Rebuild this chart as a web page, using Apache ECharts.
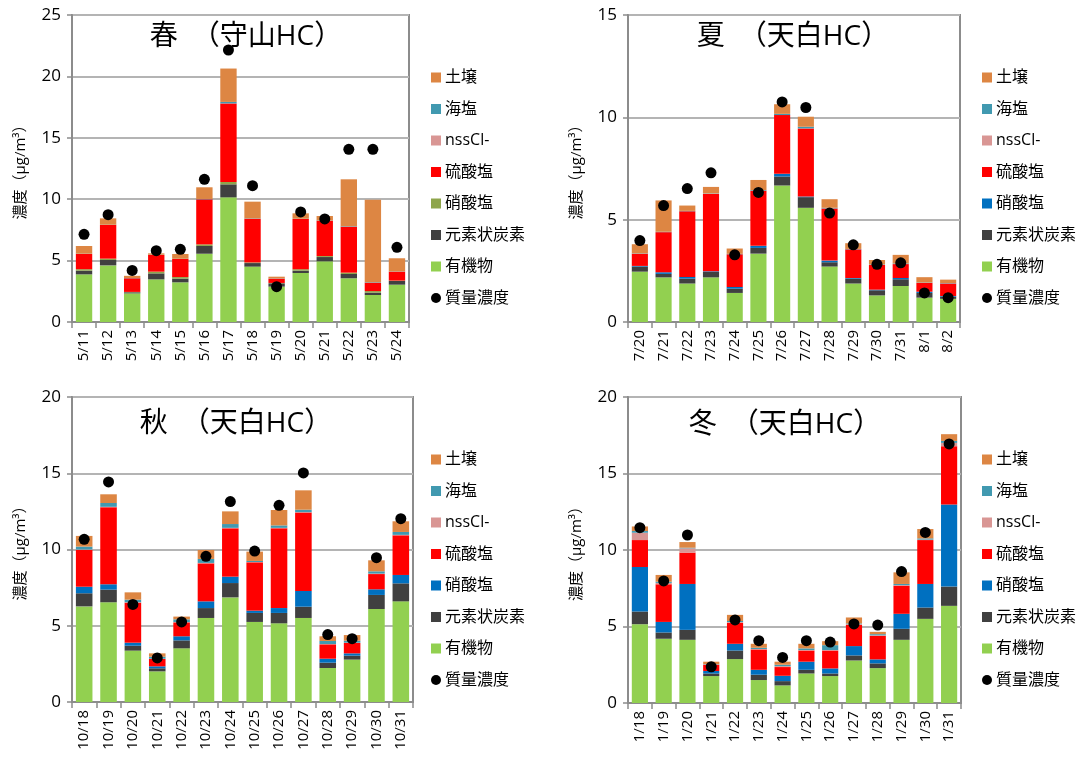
<!DOCTYPE html>
<html>
<head>
<meta charset="utf-8">
<script src="https://cdn.jsdelivr.net/npm/echarts@6/dist/echarts.min.js"></script>
<style>
  html, body { margin: 0; padding: 0; background: #fff; }
  #chart { width: 1079px; height: 758px; }
</style>
</head>
<body>
<div id="chart"></div>
<script>
// ---- 春（守山HC） ----
const springDates = ['5/11','5/12','5/13','5/14','5/15','5/16','5/17','5/18','5/19','5/20','5/21','5/22','5/23','5/24'];
const springOrganic  = [3.88, 4.61, 2.33, 3.47, 3.23, 5.56, 10.15, 4.51, 2.88, 3.99, 4.94, 3.56, 2.20, 3.04];
const springEC       = [0.30, 0.44, 0.09, 0.49, 0.30, 0.63, 1.06, 0.29, 0.27, 0.19, 0.35, 0.35, 0.19, 0.30];
const springNitrate  = [0.12, 0.11, 0.03, 0.14, 0.13, 0.13, 0.19, 0.05, 0.03, 0.12, 0.08, 0.11, 0.13, 0.03];
const springSulfate  = [1.24, 2.74, 1.11, 1.36, 1.47, 3.67, 6.40, 3.56, 0.35, 4.09, 2.88, 3.74, 0.68, 0.73];
const springNssCl    = [0, 0, 0, 0, 0, 0, 0, 0, 0, 0, 0, 0, 0, 0];
const springSeaSalt  = [0.02, 0.02, 0.02, 0.02, 0.02, 0.03, 0.12, 0.03, 0.02, 0.02, 0.02, 0.04, 0.04, 0.02];
const springSoil     = [0.63, 0.52, 0.18, 0.11, 0.39, 0.95, 2.72, 1.36, 0.14, 0.44, 0.36, 3.82, 6.71, 1.07];
const springMass     = [7.14, 8.74, 4.20, 5.81, 5.92, 11.62, 22.15, 11.10, 2.88, 8.96, 8.39, 14.06, 14.06, 6.08];

// ---- 夏（天白HC） ----
const summerDates = ['7/20','7/21','7/22','7/23','7/24','7/25','7/26','7/27','7/28','7/29','7/30','7/31','8/1','8/2'];
const summerOrganic  = [2.46, 2.18, 1.88, 2.18, 1.42, 3.34, 6.67, 5.58, 2.71, 1.88, 1.30, 1.76, 1.19, 1.13];
const summerEC       = [0.25, 0.17, 0.24, 0.27, 0.21, 0.28, 0.44, 0.52, 0.21, 0.24, 0.25, 0.33, 0.23, 0.11];
const summerNitrate  = [0.03, 0.08, 0.08, 0.03, 0.08, 0.10, 0.13, 0.03, 0.08, 0.03, 0.03, 0.06, 0.06, 0.03];
const summerSulfate  = [0.59, 1.96, 3.21, 3.78, 1.60, 2.69, 2.87, 3.33, 2.55, 1.40, 1.21, 0.68, 0.43, 0.61];
const summerNssCl    = [0, 0, 0, 0, 0, 0, 0, 0, 0, 0, 0, 0, 0, 0];
const summerSeaSalt  = [0.02, 0.02, 0.02, 0.02, 0.02, 0.03, 0.06, 0.08, 0.03, 0.02, 0.02, 0.03, 0.02, 0.02];
const summerSoil     = [0.45, 1.53, 0.26, 0.32, 0.26, 0.50, 0.47, 0.49, 0.42, 0.28, 0.22, 0.42, 0.26, 0.17];
const summerMass     = [3.98, 5.69, 6.52, 7.29, 3.28, 6.33, 10.75, 10.48, 5.32, 3.77, 2.82, 2.89, 1.42, 1.19];

// ---- 秋（天白HC） ----
const autumnDates = ['10/18','10/19','10/20','10/21','10/22','10/23','10/24','10/25','10/26','10/27','10/28','10/29','10/30','10/31'];
const autumnOrganic  = [6.27, 6.54, 3.37, 2.01, 3.52, 5.51, 6.86, 5.25, 5.16, 5.51, 2.23, 2.78, 6.10, 6.60];
const autumnEC       = [0.86, 0.83, 0.32, 0.20, 0.52, 0.65, 0.94, 0.59, 0.68, 0.74, 0.35, 0.26, 0.92, 1.18];
const autumnNitrate  = [0.43, 0.35, 0.20, 0.13, 0.27, 0.44, 0.42, 0.15, 0.32, 1.03, 0.26, 0.15, 0.37, 0.55];
const autumnSulfate  = [2.41, 5.05, 2.62, 0.48, 0.91, 2.49, 3.17, 3.17, 5.23, 5.14, 0.94, 0.68, 1.00, 2.60];
const autumnNssCl    = [0.03, 0.03, 0.03, 0.02, 0.02, 0.03, 0.03, 0.02, 0.03, 0.03, 0.02, 0.02, 0.03, 0.03];
const autumnSeaSalt  = [0.19, 0.25, 0.17, 0.13, 0.18, 0.26, 0.25, 0.07, 0.16, 0.16, 0.20, 0.13, 0.15, 0.19];
const autumnSoil     = [0.70, 0.57, 0.48, 0.22, 0.18, 0.59, 0.83, 0.61, 1.01, 1.27, 0.31, 0.37, 0.72, 0.70];
const autumnMass     = [10.67, 14.43, 6.40, 2.89, 5.25, 9.55, 13.14, 9.90, 12.90, 15.02, 4.42, 4.15, 9.46, 12.02];

// ---- 冬（天白HC） ----
const winterDates = ['1/18','1/19','1/20','1/21','1/22','1/23','1/24','1/25','1/26','1/27','1/28','1/29','1/30','1/31'];
const winterOrganic  = [5.15, 4.20, 4.13, 1.76, 2.87, 1.50, 1.15, 1.93, 1.76, 2.78, 2.28, 4.13, 5.50, 6.35];
const winterEC       = [0.83, 0.41, 0.65, 0.17, 0.56, 0.35, 0.28, 0.24, 0.17, 0.33, 0.31, 0.72, 0.74, 1.26];
const winterNitrate  = [2.91, 0.69, 3.00, 0.16, 0.44, 0.32, 0.35, 0.53, 0.33, 0.61, 0.26, 0.98, 1.54, 5.37];
const winterSulfate  = [1.76, 2.46, 2.05, 0.41, 1.37, 1.33, 0.57, 0.73, 1.17, 1.39, 1.54, 1.84, 2.87, 3.80];
const winterNssCl    = [0.48, 0.09, 0.28, 0.02, 0.05, 0.03, 0.06, 0.03, 0.03, 0.04, 0.03, 0.03, 0.03, 0.22];
const winterSeaSalt  = [0.11, 0.08, 0.04, 0.02, 0.07, 0.08, 0.09, 0.11, 0.32, 0.05, 0.08, 0.08, 0.08, 0.13];
const winterSoil     = [0.30, 0.44, 0.37, 0.16, 0.40, 0.26, 0.20, 0.30, 0.26, 0.39, 0.15, 0.76, 0.61, 0.44];
const winterMass     = [11.46, 7.98, 10.98, 2.37, 5.43, 4.07, 2.98, 4.07, 3.98, 5.17, 5.09, 8.59, 11.15, 16.93];

const FONT = '"Open Sans", "Noto Sans CJK JP", sans-serif';
const COLORS = {
  soil: '#dd8643',
  seaSalt: '#4199b0',
  nssCl: '#d99694',
  sulfate: '#ff0000',
  nitrate: '#0070c0',
  nitrateSpring: '#8ea54b',
  ec: '#404040',
  organic: '#92d050'
};

const panels = [
  { key: '春', title: '春　（守山HC）', dates: springDates, max: 25, interval: 5,
    grid: { left: 72, top: 15, width: 337, height: 307 },
    legend: { left: 426, top: 64 }, titlePos: [246, 37],
    organic: springOrganic, ec: springEC, nitrate: springNitrate, sulfate: springSulfate,
    nssCl: springNssCl, seaSalt: springSeaSalt, soil: springSoil, mass: springMass,
    nitrateColor: COLORS.nitrateSpring },
  { key: '夏', title: '夏　（天白HC）', dates: summerDates, max: 15, interval: 5,
    grid: { left: 628, top: 15, width: 332, height: 307 },
    legend: { left: 977, top: 64 }, titlePos: [793, 37],
    organic: summerOrganic, ec: summerEC, nitrate: summerNitrate, sulfate: summerSulfate,
    nssCl: summerNssCl, seaSalt: summerSeaSalt, soil: summerSoil, mass: summerMass,
    nitrateColor: COLORS.nitrate },
  { key: '秋', title: '秋　（天白HC）', dates: autumnDates, max: 20, interval: 5,
    grid: { left: 72, top: 397, width: 341, height: 305 },
    legend: { left: 426, top: 446 }, titlePos: [236, 424],
    organic: autumnOrganic, ec: autumnEC, nitrate: autumnNitrate, sulfate: autumnSulfate,
    nssCl: autumnNssCl, seaSalt: autumnSeaSalt, soil: autumnSoil, mass: autumnMass,
    nitrateColor: COLORS.nitrate },
  { key: '冬', title: '冬　（天白HC）', dates: winterDates, max: 20, interval: 5,
    grid: { left: 628, top: 397, width: 333, height: 306 },
    legend: { left: 977, top: 446 }, titlePos: [785, 425],
    organic: winterOrganic, ec: winterEC, nitrate: winterNitrate, sulfate: winterSulfate,
    nssCl: winterNssCl, seaSalt: winterSeaSalt, soil: winterSoil, mass: winterMass,
    nitrateColor: COLORS.nitrate }
];

const grids = [], xAxes = [], yAxes = [], legends = [], series = [], graphics = [];

panels.forEach((p, i) => {
  grids.push(Object.assign({ show: true, borderColor: '#8c8c8c', borderWidth: 2, backgroundColor: 'transparent' }, p.grid));
  xAxes.push({
    type: 'category', gridIndex: i, data: p.dates,
    axisLine: { lineStyle: { color: '#8c8c8c', width: 2 } },
    axisTick: { show: true, length: 6, lineStyle: { color: '#8c8c8c', width: 1.5 } },
    axisLabel: { rotate: 90, color: '#000', fontSize: 15, fontFamily: FONT, margin: 8 }
  });
  yAxes.push({
    type: 'value', gridIndex: i, min: 0, max: p.max, interval: p.interval,
    name: '濃度（μg/m³）', nameLocation: 'middle', nameGap: 44, nameRotate: 90,
    nameTextStyle: { color: '#000', fontSize: 15, fontFamily: FONT },
    axisLine: { show: true, lineStyle: { color: '#8c8c8c', width: 2 } },
    axisTick: { show: true, length: 5, lineStyle: { color: '#8c8c8c', width: 1.5 } },
    axisLabel: { color: '#000', fontSize: 17, fontFamily: FONT, margin: 11 },
    splitLine: { lineStyle: { color: '#b4b4b4', width: 2 } }
  });

  const comps = [
    ['有機物', p.organic, COLORS.organic],
    ['元素状炭素', p.ec, COLORS.ec],
    ['硝酸塩', p.nitrate, p.nitrateColor],
    ['硫酸塩', p.sulfate, COLORS.sulfate],
    ['nssCl-', p.nssCl, COLORS.nssCl],
    ['海塩', p.seaSalt, COLORS.seaSalt],
    ['土壌', p.soil, COLORS.soil]
  ];
  comps.forEach(([name, data, color]) => {
    series.push({
      type: 'bar', name: p.key + '|' + name, xAxisIndex: i, yAxisIndex: i,
      stack: 'stack' + i, data: data, barWidth: '68%',
      itemStyle: { color: color }, emphasis: { disabled: true }
    });
  });
  series.push({
    type: 'scatter', name: p.key + '|質量濃度', xAxisIndex: i, yAxisIndex: i,
    data: p.mass, symbol: 'circle', symbolSize: 11, z: 5,
    itemStyle: { color: '#000', opacity: 1 }
  });

  const legendNames = ['土壌', '海塩', 'nssCl-', '硫酸塩', '硝酸塩', '元素状炭素', '有機物'];
  legends.push({
    orient: 'vertical', left: p.legend.left, top: p.legend.top,
    itemWidth: 10, itemHeight: 10, itemGap: 14.5,
    selectedMode: false,
    textStyle: { fontSize: 16, lineHeight: 17, color: '#000', fontFamily: FONT, padding: [0, 0, 0, -1] },
    formatter: n => n.split('|')[1],
    data: legendNames.map(n => ({ name: p.key + '|' + n, icon: 'rect' }))
      .concat([{ name: p.key + '|質量濃度', icon: 'circle', itemStyle: { color: '#000', opacity: 1 } }])
  });

  graphics.push({
    type: 'text', x: p.titlePos[0], y: p.titlePos[1],
    style: { text: p.title, fill: '#000', font: '28px ' + FONT, textAlign: 'center', textVerticalAlign: 'middle' }
  });
});

const chart = echarts.init(document.getElementById('chart'), null, { renderer: 'canvas' });
chart.setOption({
  animation: false,
  grid: grids, xAxis: xAxes, yAxis: yAxes,
  legend: legends, series: series, graphic: graphics
});
</script>
</body>
</html>
